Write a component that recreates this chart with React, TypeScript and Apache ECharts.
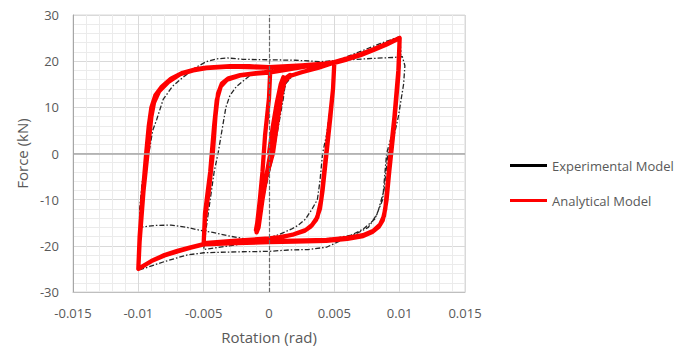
import React, { useEffect, useRef } from "react";
import * as echarts from "echarts";

const xTicks = { min: -0.015, max: 0.015, interval: 0.005 };
const yTicks = { min: -30, max: 30, interval: 10 };
const seriesNames = ["Experimental Model", "Analytical Model"];

const analytical: number[][] = [
  [0, 0], [0.0003, 6], [0.0006, 11], [0.0009, 15], [0.0011, 16.5],
  [0.001, 14], [0.0006, 8], [0.0001, 0], [-0.0004, -8], [-0.0008, -14], [-0.001, -16.6],
  [-0.0009, -15], [-0.0005, -8], [0.0003, 0], [0.0007, 8], [0.001, 13.5], [0.0012, 15.6],
  [0.0016, 16.8], [0.0025, 17.6], [0.0038, 18.6], [0.005, 19.7],
  [0.0049, 14], [0.0047, 8], [0.0044, 0], [0.0041, -8], [0.0039, -12], [0.0036, -14.4],
  [0.0032, -15.8], [0.0027, -16.8], [0.0018, -17.6], [0.0008, -18.1], [0, -18.4],
  [-0.0025, -18.9], [-0.005, -19.4],
  [-0.0049, -14], [-0.0046, -8], [-0.0043, 0], [-0.0041, 8], [-0.0039, 13], [-0.0036, 15.2],
  [-0.0031, 16.3], [-0.0022, 17], [-0.001, 17.4], [0, 17.7], [0.0015, 18.3], [0.003, 18.9], [0.005, 19.8],
  [0.0049, 14], [0.0046, 6], [0.0043, -2], [0.004, -10], [0.0037, -13.8], [0.0033, -15.5],
  [0.0028, -16.6], [0.0019, -17.5], [0.0008, -18.2], [0, -18.6], [-0.0025, -19.1], [-0.005, -19.5],
  [-0.0049, -13], [-0.0045, -4], [-0.0042, 6], [-0.004, 11.5], [-0.0037, 14.5], [-0.0032, 16],
  [-0.0022, 16.9], [-0.001, 17.3], [0, 17.5], [0.0015, 18.2], [0.003, 18.9], [0.005, 19.8],
  [0.006, 20.6], [0.007, 21.5], [0.008, 22.6], [0.009, 23.8], [0.01, 25],
  [0.0099, 18], [0.0096, 8], [0.0093, 0], [0.0091, -6], [0.0089, -12], [0.0087, -14.5],
  [0.0084, -15.9], [0.0079, -17], [0.0072, -17.9], [0.006, -18.5], [0.0044, -18.9],
  [0.002, -19.1], [0, -19.2], [-0.0025, -19.4], [-0.005, -19.7], [-0.006, -20.4],
  [-0.007, -21.2], [-0.008, -22.1], [-0.009, -23.3], [-0.01, -25],
  [-0.0099, -18], [-0.0097, -10], [-0.0094, 0], [-0.0092, 6], [-0.009, 10], [-0.0087, 12.6],
  [-0.0082, 14.5], [-0.0075, 16.2], [-0.0066, 17.5], [-0.0057, 18.2], [-0.0048, 18.6],
  [-0.003, 18.9], [-0.0015, 18.9], [0, 18.7], [0.0025, 19.1], [0.005, 19.6], [0.006, 20.4],
  [0.007, 21.3], [0.008, 22.4], [0.009, 23.6], [0.01, 25],
  [0.0099, 17], [0.0095, 4], [0.0092, -4], [0.009, -10], [0.0088, -13.5], [0.0085, -15.4],
  [0.008, -16.7], [0.0072, -17.7], [0.006, -18.3], [0.0044, -18.7], [0.002, -18.9], [0, -19],
  [-0.0025, -19.3], [-0.005, -19.6], [-0.006, -20.3], [-0.007, -21.1], [-0.008, -22],
  [-0.009, -23.3], [-0.01, -25],
  [-0.0099, -19], [-0.0096, -8], [-0.0093, 0], [-0.009, 8], [-0.0088, 11], [-0.0084, 13.5],
  [-0.0077, 15.5], [-0.0068, 17.2], [-0.0058, 18], [-0.0048, 18.5], [-0.003, 18.8], [0, 18.6],
  [0.0001, 18.4], [0, 12], [-0.0003, 4], [-0.0005, -4], [-0.0007, -10], [-0.0009, -15], [-0.00095, -17.1],
  [-0.0008, -16], [-0.0005, -10], [0.0001, 0], [0.0005, 8], [0.0008, 13.5], [0.0011, 16], [0.0016, 17],
];

const experimental: number[][] = [
  [0, 0], [0.0004, 6], [0.0008, 12], [0.0011, 15], [0.0013, 16.2],
  [0.0011, 12], [0.0006, 4], [0.0002, -2], [-0.0003, -8], [-0.0007, -13], [-0.0009, -15.5], [-0.001, -16.3],
  [-0.0008, -14], [-0.0004, -8], [0.0002, -1], [0.0006, 5], [0.001, 12], [0.0013, 15.2],
  [0.0018, 16.8], [0.003, 18.2], [0.004, 19], [0.005, 19.9],
  [0.0048, 12], [0.0044, 4], [0.0041, 0], [0.0039, -6], [0.0037, -10], [0.0033, -12],
  [0.0028, -14.2], [0.0022, -15.6], [0.0017, -16.4], [0.0008, -17.5], [0, -18.3],
  [-0.0015, -19.3], [-0.003, -20], [-0.0045, -20.6], [-0.005, -20.8],
  [-0.0048, -16], [-0.0045, -10], [-0.0042, -4], [-0.0039, 0], [-0.0036, 5], [-0.0033, 10],
  [-0.003, 12.5], [-0.0025, 14.5], [-0.0015, 16.8], [-0.0005, 17.8], [0, 18.1], [0.0015, 18.3],
  [0.003, 19.2], [0.005, 19.9], [0.0069, 22], [0.0085, 23.8], [0.01, 25.3],
  [0.0101, 22], [0.0099, 15], [0.0095, 5], [0.009, 0], [0.0087, -10], [0.0081, -14.2],
  [0.0072, -16.4], [0.0062, -17.8], [0.0054, -19], [0.0044, -20.3], [0.003, -20.8],
  [0.0015, -20.9], [0, -21.2], [-0.0025, -21.3], [-0.005, -21.5], [-0.0063, -22],
  [-0.0081, -23.5], [-0.01, -25.3],
  [-0.0099, -22], [-0.0098, -16], [-0.0097, -10], [-0.0094, -3], [-0.0092, 0], [-0.0089, 5],
  [-0.0086, 7.3], [-0.0081, 11.7], [-0.0074, 14.5], [-0.0068, 16], [-0.006, 17.8],
  [-0.0055, 18.8], [-0.0048, 19.9], [-0.004, 20.5], [-0.0032, 20.7], [-0.002, 20.4],
  [0, 20.3], [0.002, 20.2], [0.004, 19.9], [0.006, 20.3], [0.008, 20.6], [0.0095, 20.8], [0.0102, 21],
  [0.0104, 19], [0.0103, 15], [0.0099, 8], [0.0095, 3], [0.0091, 0], [0.0088, -8],
  [0.0083, -13], [0.0076, -16], [0.0066, -17.5], [0.0052, -18.3], [0.0039, -18.6],
  [0.002, -18.9], [0, -19.2], [-0.0012, -18.8], [-0.003, -17.9], [-0.0043, -17.1],
  [-0.005, -16.8], [-0.0063, -16], [-0.0075, -15.5], [-0.0088, -15.6], [-0.0099, -16],
  [-0.0099, -12], [-0.0097, -6],
];

const FONT = "'Open Sans', sans-serif";
const TXT = "#595959";

function fmt(v: number) {
  const r = Math.round(v * 10000) / 10000;
  return r === 0 ? "0" : String(r);
}

export default function App() {
  const ref = useRef<HTMLDivElement>(null);
  useEffect(() => {
    if (!ref.current) return;
    const chart = echarts.init(ref.current, undefined, { renderer: "svg" });
    chart.setOption({
      animation: false,
      backgroundColor: "#ffffff",
      textStyle: { fontFamily: FONT },
      grid: {
        left: 73, right: 220, top: 15, bottom: 56,
        show: true, borderColor: "#d9d9d9", borderWidth: 1,
      },
      legend: {
        orient: "vertical",
        left: 505, top: 154,
        itemWidth: 37, itemHeight: 3, itemGap: 22,
        icon: "rect",
        data: seriesNames,
        textStyle: { color: TXT, fontSize: 13, fontFamily: FONT },
      },
      xAxis: {
        type: "value",
        min: xTicks.min, max: xTicks.max, interval: xTicks.interval,
        name: "Rotation (rad)", nameLocation: "middle", nameGap: 37,
        nameTextStyle: { color: TXT, fontSize: 15, fontFamily: FONT },
        axisLine: { show: true, onZero: false, lineStyle: { color: "#bfbfbf", width: 1 } },
        axisTick: { show: false },
        axisLabel: { color: TXT, fontSize: 13, margin: 14, formatter: fmt, fontFamily: FONT },
        splitLine: { show: true, lineStyle: { color: "#d9d9d9", width: 1 } },
        minorTick: { show: false, splitNumber: 5 },
        minorSplitLine: { show: true, lineStyle: { color: "#ebebeb", width: 1 } },
      },
      yAxis: {
        type: "value",
        min: yTicks.min, max: yTicks.max, interval: yTicks.interval,
        name: "Force (kN)", nameLocation: "middle", nameGap: 44,
        nameTextStyle: { color: TXT, fontSize: 15, fontFamily: FONT },
        axisLine: { show: true, onZero: false, lineStyle: { color: "#a6a6a6", width: 1 } },
        axisTick: { show: false },
        axisLabel: { color: TXT, fontSize: 13, margin: 14, fontFamily: FONT },
        splitLine: { show: true, lineStyle: { color: "#d9d9d9", width: 1 } },
        minorTick: { show: false, splitNumber: 5 },
        minorSplitLine: { show: true, lineStyle: { color: "#ebebeb", width: 1 } },
      },
      series: [
        {
          name: "zero-lines",
          type: "line",
          data: [[0, 0]],
          showSymbol: false,
          silent: true,
          z: 1,
          lineStyle: { opacity: 0 },
          markLine: {
            silent: true,
            symbol: "none",
            label: { show: false },
            animation: false,
            data: [
              { xAxis: 0, lineStyle: { color: "#6b6b6b", width: 1.2, type: [4, 2] } },
              { yAxis: 0, lineStyle: { color: "#a6a6a6", width: 1.6, type: "solid" } },
            ],
          },
        },
        {
          name: seriesNames[0],
          type: "line",
          data: experimental,
          showSymbol: false,
          z: 3,
          color: "#000000",
          lineStyle: { color: "#262626", width: 1.3, type: [5, 2, 1.5, 2] },
        },
        {
          name: seriesNames[1],
          type: "line",
          data: analytical,
          showSymbol: false,
          z: 4,
          color: "#ff0000",
          lineStyle: { color: "#ff0000", width: 4.3, join: "round", cap: "round" },
        },
      ],
    });
    return () => chart.dispose();
  }, []);
  return (
    <div
      ref={ref}
      style={{ position: "fixed", left: 0, top: 0, width: 685, height: 349, background: "#fff" }}
    />
  );
}
